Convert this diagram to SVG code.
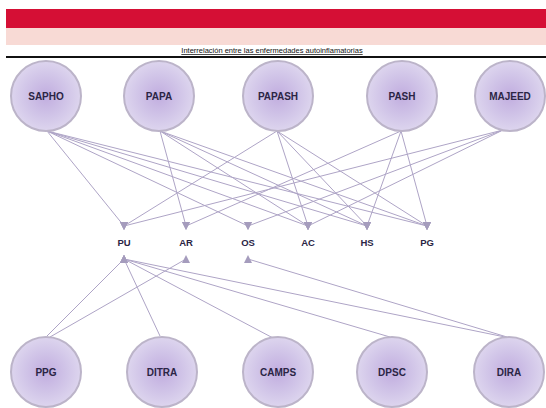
<svg xmlns="http://www.w3.org/2000/svg" width="546" height="408" viewBox="0 0 546 408">
<defs>
<radialGradient id="cg" cx="50%" cy="50%" r="50%">
<stop offset="0" stop-color="#c1addf"/>
<stop offset="0.6" stop-color="#d1c5e8"/>
<stop offset="1" stop-color="#ddd5ee"/>
</radialGradient>
<marker id="dn" viewBox="0 0 8 8" refX="4" refY="4" markerWidth="8" markerHeight="8" markerUnits="userSpaceOnUse" orient="90">
<path d="M0,0 L8,4 L0,8 z" fill="#a59cbd"/>
</marker>
<marker id="up" viewBox="0 0 8 8" refX="4" refY="4" markerWidth="8" markerHeight="8" markerUnits="userSpaceOnUse" orient="-90">
<path d="M0,0 L8,4 L0,8 z" fill="#a59cbd"/>
</marker>
</defs>
<style>
.c{fill:url(#cg);stroke:#bcb4c9;stroke-width:2}
.t{font-family:"Liberation Sans",Arial,sans-serif;font-weight:bold;font-size:10px;fill:#2b2545;text-anchor:middle}
.m{font-family:"Liberation Sans",Arial,sans-serif;font-weight:bold;font-size:9.5px;fill:#2b2545;text-anchor:middle}
.l{stroke:#aea4c6;stroke-width:1;fill:none}
.td{marker-end:url(#dn)}
.bu{marker-start:url(#up)}
</style>
<rect width="546" height="408" fill="#ffffff"/>
<g id="header">
<rect x="6" y="9" width="540" height="19" fill="#d50f35"/>
<rect x="6" y="28" width="540" height="17" fill="#f8dad5"/>
<text x="272" y="53" font-family="Liberation Sans,Arial,sans-serif" font-size="7.5" text-anchor="middle" fill="#111" text-decoration="underline">Interrelación entre las enfermedades autoinflamatorias</text>
<rect x="6" y="56" width="540" height="2" fill="#111"/>
</g>
<g id="connectors">
<line class="l td" x1="47" y1="131" x2="124" y2="226"/>
<line class="l td" x1="47" y1="131" x2="248" y2="226"/>
<line class="l td" x1="47" y1="131" x2="308" y2="226"/>
<line class="l td" x1="47" y1="131" x2="367" y2="226"/>
<line class="l td" x1="47" y1="131" x2="427" y2="226"/>
<line class="l td" x1="160" y1="131" x2="186" y2="226"/>
<line class="l td" x1="160" y1="131" x2="308" y2="226"/>
<line class="l td" x1="160" y1="131" x2="367" y2="226"/>
<line class="l td" x1="160" y1="131" x2="427" y2="226"/>
<line class="l td" x1="277" y1="131" x2="124" y2="226"/>
<line class="l td" x1="277" y1="131" x2="308" y2="226"/>
<line class="l td" x1="277" y1="131" x2="367" y2="226"/>
<line class="l td" x1="277" y1="131" x2="427" y2="226"/>
<line class="l td" x1="401" y1="131" x2="186" y2="226"/>
<line class="l td" x1="401" y1="131" x2="367" y2="226"/>
<line class="l td" x1="401" y1="131" x2="427" y2="226"/>
<line class="l td" x1="503" y1="130" x2="124" y2="226"/>
<line class="l td" x1="503" y1="130" x2="248" y2="226"/>
<line class="l td" x1="503" y1="130" x2="308" y2="226"/>
<line class="l bu" x1="124" y1="259" x2="47" y2="336"/>
<line class="l bu" x1="124" y1="259" x2="160" y2="336"/>
<line class="l bu" x1="124" y1="259" x2="273" y2="338"/>
<line class="l bu" x1="124" y1="259" x2="390" y2="337"/>
<line class="l bu" x1="124" y1="259" x2="505" y2="337"/>
<line class="l bu" x1="186" y1="259" x2="50" y2="337"/>
<line class="l bu" x1="248" y1="259" x2="507" y2="337"/>
</g>
<g id="SAPHO"><circle class="c" cx="46" cy="96" r="35"/><text class="t" x="46" y="99.5">SAPHO</text></g>
<g id="PAPA"><circle class="c" cx="159" cy="96" r="35"/><text class="t" x="159" y="99.5">PAPA</text></g>
<g id="PAPASH"><circle class="c" cx="278" cy="96" r="35"/><text class="t" x="278" y="99.5">PAPASH</text></g>
<g id="PASH"><circle class="c" cx="402" cy="96" r="35"/><text class="t" x="402" y="99.5">PASH</text></g>
<g id="MAJEED"><circle class="c" cx="510" cy="96" r="35"/><text class="t" x="510" y="99.5">MAJEED</text></g>
<g id="PU"><text class="m" x="124" y="246">PU</text></g>
<g id="AR"><text class="m" x="186" y="246">AR</text></g>
<g id="OS"><text class="m" x="248" y="246">OS</text></g>
<g id="AC"><text class="m" x="308" y="246">AC</text></g>
<g id="HS"><text class="m" x="367" y="246">HS</text></g>
<g id="PG"><text class="m" x="427" y="246">PG</text></g>
<g id="PPG"><circle class="c" cx="46" cy="372" r="35"/><text class="t" x="46" y="375.5">PPG</text></g>
<g id="DITRA"><circle class="c" cx="162" cy="372" r="35"/><text class="t" x="162" y="375.5">DITRA</text></g>
<g id="CAMPS"><circle class="c" cx="278" cy="372" r="35"/><text class="t" x="278" y="375.5">CAMPS</text></g>
<g id="DPSC"><circle class="c" cx="392" cy="372" r="35"/><text class="t" x="392" y="375.5">DPSC</text></g>
<g id="DIRA"><circle class="c" cx="509" cy="372" r="35"/><text class="t" x="509" y="375.5">DIRA</text></g>
</svg>
